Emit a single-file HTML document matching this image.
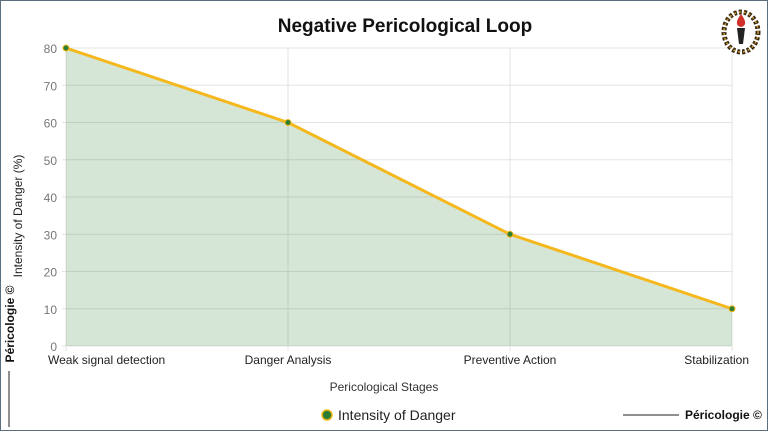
<!DOCTYPE html>
<html><head><meta charset="utf-8"><style>
html,body{margin:0;padding:0;background:#fff}
#wrap{position:relative;width:766px;height:429px;border:1px solid #5a6e80;overflow:hidden;font-family:"Liberation Sans",sans-serif}
svg{position:absolute;left:0;top:0}
</style></head><body>
<div id="wrap">
<svg id="chart" width="766" height="429"></svg>
</div>
<script>
const categories=["Weak signal detection","Danger Analysis","Preventive Action","Stabilization"];
const values=[80,60,30,10];
const yTicks=[0,10,20,30,40,50,60,70,80];
const NS="http://www.w3.org/2000/svg";
const svg=document.getElementById('chart');
const X0=65,X1=731,Y0=345,Y1=47,YMAX=80;
function xs(i){return X0+(X1-X0)*i/(categories.length-1);}
function ys(v){return Y0-(Y0-Y1)*v/YMAX;}
function mk(tag,attrs,text){const e=document.createElementNS(NS,tag);for(const k in attrs)e.setAttribute(k,attrs[k]);if(text!==undefined)e.textContent=text;svg.appendChild(e);return e;}
let e;
e=mk('text',{x:404,y:31,'text-anchor':'middle','font-size':19,'font-weight':'bold',fill:'#111'},'Negative Pericological Loop');


yTicks.forEach(t=>{
 e=mk('line',{x1:X0-4,x2:X1,y1:ys(t),y2:ys(t),stroke:'#e3e3e3','stroke-width':1});
 
 
 e=mk('text',{x:X0-9,y:ys(t)+5,'text-anchor':'end','font-size':12,fill:'#777'},String(t));
 
 
});
categories.forEach((c,i)=>{
 e=mk('line',{x1:xs(i),x2:xs(i),y1:Y1,y2:Y0+5,stroke:'#e3e3e3','stroke-width':1});
 
 
});
let pts=values.map((v,i)=>xs(i)+','+ys(v)).join(' ');
e=mk('polygon',{points:pts+' '+xs(values.length-1)+','+Y0+' '+X0+','+Y0,fill:'rgba(46,125,50,0.2)'});


e=mk('polyline',{points:pts,fill:'none',stroke:'#f4b81c','stroke-width':3});


values.forEach((v,i)=>{
 e=mk('circle',{cx:xs(i),cy:ys(v),r:3,fill:'#2e7d32',stroke:'#f4b81c','stroke-width':1});
 
 
});
categories.forEach((c,i)=>{
 let anc=i===0?'start':(i===categories.length-1?'end':'middle');
 let x=i===0?X0-18:(i===categories.length-1?X1+17:xs(i));
 e=mk('text',{x:x,y:363,'text-anchor':anc,'font-size':12,fill:'#222'},c);
 
 
});
e=mk('text',{x:383,y:390,'text-anchor':'middle','font-size':12,fill:'#333'},'Pericological Stages');


e=mk('text',{x:0,y:0,'text-anchor':'middle','font-size':12,fill:'#222',transform:'translate(21,215) rotate(-90)'},'Intensity of Danger (%)');


e=mk('text',{x:0,y:0,'text-anchor':'middle','font-size':12,'font-weight':'bold',fill:'#111',transform:'translate(13,323) rotate(-90)'},'Péricologie ©');


e=mk('line',{x1:8,x2:8,y1:370,y2:426,stroke:'#222','stroke-width':1});


e=mk('circle',{cx:326,cy:414,r:5,fill:'#2e7d32',stroke:'#f4b81c','stroke-width':1.5});


e=mk('text',{x:337,y:419,'font-size':14,fill:'#222'},'Intensity of Danger');


e=mk('line',{x1:622,x2:678,y1:414,y2:414,stroke:'#222','stroke-width':1});


e=mk('text',{x:684,y:418,'font-size':12,'font-weight':'bold',fill:'#111'},'Péricologie ©');


// logo
const g=document.createElementNS(NS,'g');g.setAttribute('transform','translate(740,31)');svg.appendChild(g);


g.innerHTML='<ellipse cx="0" cy="0" rx="17" ry="20" fill="none" stroke="#3a2a10" stroke-width="5" stroke-dasharray="3 2"/><ellipse cx="0" cy="0" rx="17" ry="20" fill="none" stroke="#c99a3a" stroke-width="1.5" stroke-dasharray="2 3"/><path d="M-4 -4 L4 -4 L2 12 L-2 12 Z" fill="#222"/><path d="M0 -18 C6 -10 5 -6 0 -5 C-5 -6 -6 -10 0 -18 Z" fill="#d0302a"/>';
</script>
</body></html>
